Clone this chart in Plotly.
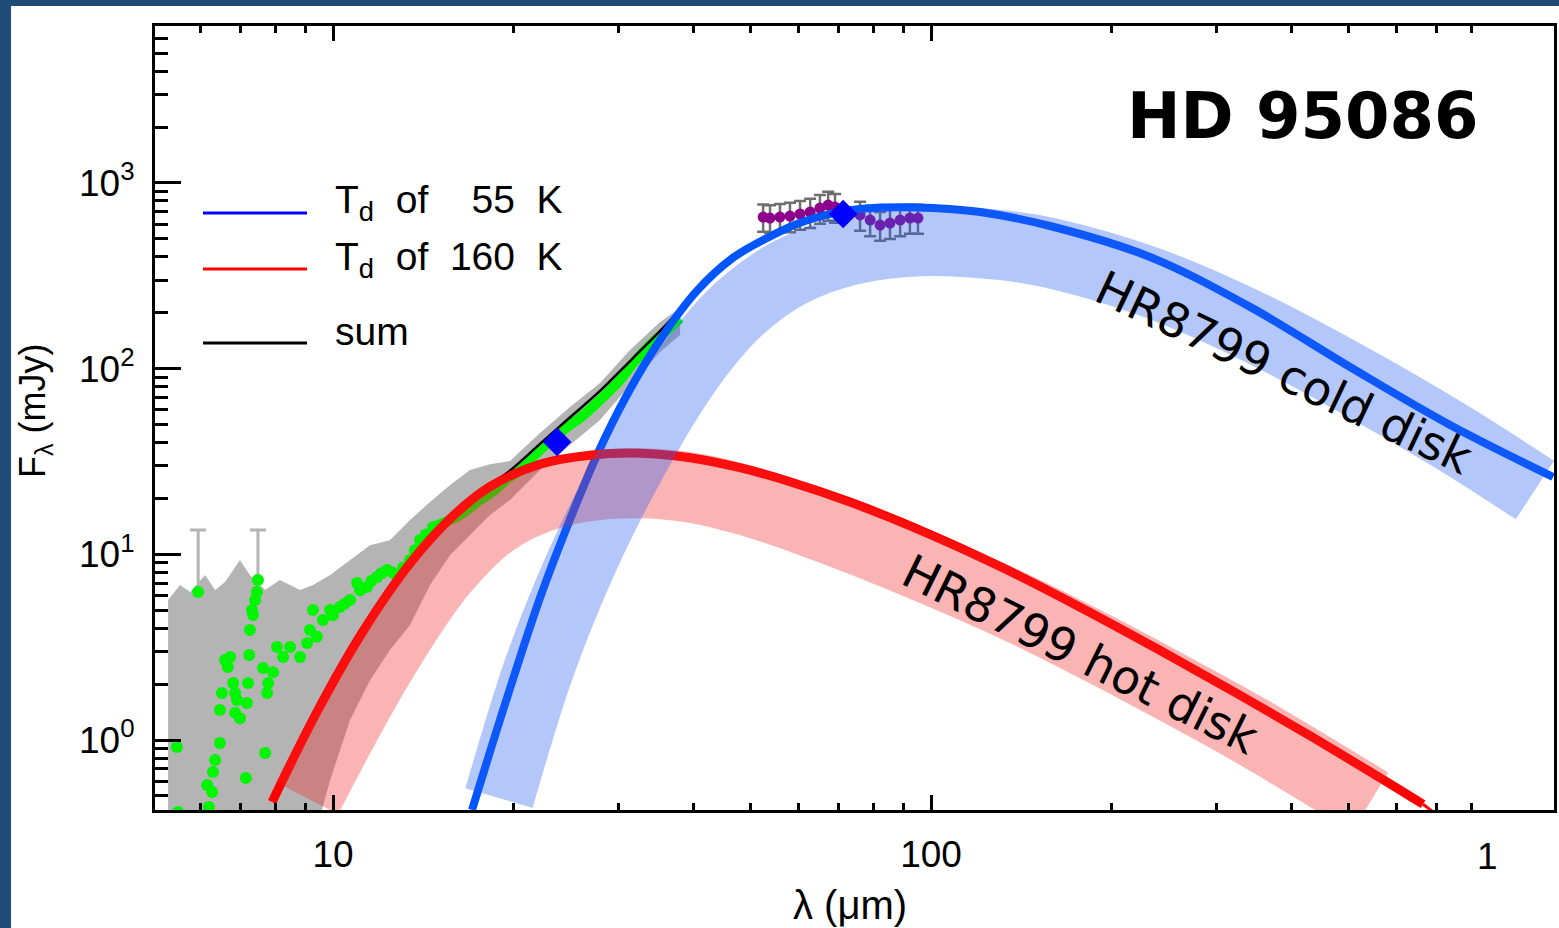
import plotly.graph_objects as go

# ---------------- data ----------------
# IRS spectrum (green dots), micron / mJy
green_x = [5.48, 5.95, 5.51, 6.20, 6.16, 6.28, 6.30, 6.35, 6.47, 6.47, 6.52, 6.60, 6.73, 6.67, 6.81, 6.86, 6.91, 6.86,
           6.99, 7.15, 7.18, 7.21, 7.24, 7.26, 7.32, 7.35, 7.41, 7.46, 7.49, 7.64, 7.70, 7.76, 7.79, 7.94, 8.06, 8.25,
           8.48, 8.81, 9.05, 9.15, 9.26, 9.40, 9.62, 9.89, 10.0, 10.27, 10.45, 10.68, 10.97, 11.1, 11.40, 11.6, 11.85,
           12.05, 12.31, 12.55, 12.79, 13.1, 13.45, 13.7, 13.98, 14.3, 14.70]
green_y = [0.917, 6.27, 0.41, 0.436, 0.573, 0.525, 0.673, 0.78, 0.963, 1.45, 1.79, 2.70, 2.80, 2.47, 2.03, 1.79, 1.64, 1.40,
           1.31, 0.624, 1.58, 2.03, 2.87, 3.91, 5.01, 4.71, 5.67, 6.27, 7.27, 2.44, 0.851, 1.79, 2.03, 2.32, 3.17, 2.80,
           3.17, 2.80, 3.33, 3.91, 5.01, 3.6, 4.43, 5.01, 4.7, 5.20, 5.4, 5.67, 7.00, 6.4, 6.67, 7.2, 7.55,
           7.9, 8.23, 8.0, 7.6, 8.5, 9.32, 10.5, 11.94, 12.8, 14.03]
# IRS spectrum, dense part (drawn as a continuous band of points)
gline_x = [14.70, 16.31, 17.62, 18.66, 19.54, 20.54, 22.19, 24.62, 25.88, 27.96, 30.20, 31.75, 33.89, 36.18, 38.05]
gline_y = [14.0, 16.3, 19.6, 22.2, 25.4, 28.4, 36.5, 48.5, 54.2, 67.8, 86.8, 107, 134, 161, 187]

# IRS uncertainty envelope (grey)
gray_up_x = [5.30, 5.55, 5.77, 6.11, 6.35, 6.60, 6.99, 7.26, 7.70, 8.15, 8.81, 9.26, 9.89, 10.68, 11.53, 12.45, 13.45,
             14.53, 15.7, 16.95, 18.3, 19.77, 22.19, 24.91, 27.96, 31.38, 35.23, 38.05]
gray_up_y = [5.67, 6.83, 6.27, 7.74, 6.42, 7.09, 9.32, 7.74, 6.42, 7.27, 6.42, 6.83, 7.74, 9.32, 11.2, 11.9, 15.3,
             19.1, 23.6, 28.4, 30.5, 31.8, 45.0, 62.1, 83.6, 126, 178, 212]
gray_lo_x = [38.05, 35.23, 31.38, 27.96, 24.91, 22.19, 19.77, 18.3, 16.95, 15.7, 14.53, 13.45, 12.45, 11.53, 10.68,
             9.89, 9.31, 5.30]
gray_lo_y = [151.7, 122.9, 81.6, 52.9, 38.8, 28.4, 19.6, 16.3, 12.7, 9.91, 6.83, 4.16, 3.05, 2.10, 1.28, 0.609, 0.3, 0.3]
# tall individual IRS error bars
spike_x = [5.95, 7.49]
spike_y = [8.0, 8.0]
spike_err = [5.5, 5.5]

# Far-IR photometry (purple) and its errors
purple_x = [52.4, 53.8, 55.9, 58.1, 60.4, 62.8, 65.2, 67.3, 69.1, 76.1, 79.1, 82.2, 85.4, 88.8, 92.2, 95.1]
purple_y = [655, 647, 655, 663, 680, 697, 732, 760, 741, 672, 631, 593, 608, 631, 647, 647]
purple_err = [110, 110, 115, 120, 120, 125, 130, 135, 130, 120, 115, 105, 110, 115, 115, 115]

# MIPS photometry (blue diamonds)
diam_x = [23.7, 71.3]
diam_y = [40.3, 680]

# Model curves
blue_x = [17.08, 19.54, 22.19, 24.62, 27.64, 31.01, 35.23, 40.6, 46.65, 53.19, 60.4, 68.6, 78.2, 88.8, 100.8,
          120.8, 158.1, 232.4, 341.6, 502, 737.9, 1097]
blue_y = [0.42, 1.684, 5.82, 14.03, 34.25, 72.1, 142.6, 262, 395, 505, 610, 686, 730, 740, 732,
          697, 586, 399, 215, 102, 49.7, 26.1]
red_x = [7.91, 9.40, 11.22, 13.45, 15.7, 18.3, 22.19, 26.9, 32.62, 39.54, 47.93, 58.1, 73.2, 98.47, 132.5,
         178.2, 239.7, 322.4, 433.6, 581, 665]
red_y = [0.464, 1.415, 3.84, 8.92, 15.55, 23.12, 30.56, 34.18, 35.03, 33.13, 29.26, 24.6, 19.12, 13.02, 8.40,
         5.16, 3.08, 1.804, 1.038, 0.590, 0.451]
red_tail_x = [665, 691]
red_tail_y = [0.451, 0.41]
sum_x = [7.91, 9.40, 11.22, 13.45, 15.7, 18.3, 19.54, 22.19, 24.62, 27.96, 31.75, 36.18, 40.6, 46.65, 53.19, 60.4,
         68.6, 78.2, 88.8, 100.8, 120.8, 158.1, 232.4, 341.6, 502, 737.9, 1097]
sum_y = [0.473, 1.44, 3.92, 9.1, 15.9, 23.7, 27.4, 39.3, 52.9, 75.8, 114, 174, 262, 395, 511, 616,
         697, 742, 756, 745, 712, 598, 405, 218, 103.5, 50.3, 26.3]

# HR 8799 disk templates (bands)
cold_x = [18.95, 21.85, 24.72, 27.85, 31.62, 36.47, 41.1, 47.9, 58.1, 73.2, 95.9, 130.5, 158.1, 232.4, 341.6, 502,
          737.9, 1023]
cold_y = [0.487, 2.184, 6.158, 14.38, 31.64, 69.8, 122.1, 211.5, 330.0, 434.0, 485.0, 463.0, 420.0, 292.0, 171.0,
          89.0, 43.4, 22.2]
hot_x = [9.05, 10.76, 12.27, 13.92, 15.28, 18.03, 20.95, 26.09, 32.62, 39.99, 49.81, 60.4, 79.98, 140.4, 189.5,
         254.9, 342.9, 542.1]
hot_y = [0.487, 1.394, 2.901, 5.461, 8.173, 14.03, 18.75, 23.0, 24.15, 22.75, 19.2, 15.65, 11.1, 5.095, 3.141,
         1.894, 1.119, 0.462]

# axis ticks
x_tickvals = [10, 100]
x_ticktext = ["10", "100"]
x_minor = [6, 7, 8, 9, 20, 30, 40, 50, 60, 70, 80, 90, 200, 300, 400, 500, 600, 700, 800]
y_tickvals = [1, 10, 100, 1000]
y_ticktext = ["10<sup>0</sup>", "10<sup>1</sup>", "10<sup>2</sup>", "10<sup>3</sup>"]
y_minor = [0.5, 0.6, 0.7, 0.8, 0.9, 2, 3, 4, 5, 6, 7, 8, 9, 20, 30, 40, 50, 60, 70, 80, 90,
           200, 300, 400, 500, 600, 700, 800, 900, 2000, 3000, 4000, 5000, 6000]

# ---------------- layout geometry ----------------
W, H = 1559, 928
L, R, T, B = 155, 5, 26, 118
PW, PH = W - L - R, H - T - B


def px(x):
    return (x - L) / PW


def py(y):
    return (H - B - y) / PH


FONT = "Liberation Sans"
fig = go.Figure()

# grey envelope
fig.add_trace(go.Scatter(x=gray_up_x + gray_lo_x, y=gray_up_y + gray_lo_y, mode="lines", fill="toself",
                         fillcolor="rgb(180,180,180)", line=dict(width=0), hoverinfo="skip"))
fig.add_trace(go.Scatter(x=spike_x, y=spike_y, mode="markers", marker=dict(size=1, color="rgba(0,0,0,0)"),
                         error_y=dict(type="data", array=spike_err, arrayminus=spike_err, color="rgb(180,180,180)",
                                      thickness=3, width=8)))
fig.add_trace(go.Scatter(x=purple_x, y=purple_y, mode="markers", marker=dict(size=1, color="rgba(0,0,0,0)"),
                         error_y=dict(type="data", array=purple_err, arrayminus=purple_err, color="rgb(110,110,110)",
                                      thickness=2.5, width=6)))
# green spectrum
fig.add_trace(go.Scatter(x=green_x, y=green_y, mode="markers",
                         marker=dict(size=12, color="rgb(0,245,0)", line=dict(width=0))))
fig.add_trace(go.Scatter(x=gline_x, y=gline_y, mode="lines", line=dict(color="rgb(0,245,0)", width=10, shape="spline")))
# purple photometry
fig.add_trace(go.Scatter(x=purple_x, y=purple_y, mode="markers",
                         marker=dict(size=11, color="rgb(140,0,140)", line=dict(width=0))))
# models
fig.add_trace(go.Scatter(x=sum_x, y=sum_y, mode="lines", line=dict(color="black", width=2.5, shape="spline")))
fig.add_trace(go.Scatter(x=blue_x, y=blue_y, mode="lines", line=dict(color="rgb(0,85,255)", width=8, shape="spline")))
fig.add_trace(go.Scatter(x=red_x, y=red_y, mode="lines", line=dict(color="rgb(255,0,0)", width=9, shape="spline")))
fig.add_trace(go.Scatter(x=red_tail_x, y=red_tail_y, mode="lines", line=dict(color="rgb(255,0,0)", width=3)))
# HR 8799 bands
fig.add_trace(go.Scatter(x=hot_x, y=hot_y, mode="lines",
                         line=dict(color="rgba(240,40,40,0.35)", width=70, shape="spline")))
fig.add_trace(go.Scatter(x=cold_x, y=cold_y, mode="lines",
                         line=dict(color="rgba(40,95,240,0.35)", width=70, shape="spline")))
# diamonds
fig.add_trace(go.Scatter(x=diam_x, y=diam_y, mode="markers",
                         marker=dict(symbol="diamond", size=22, color="rgb(0,0,255)", line=dict(width=0))))

# frame (dark blue border around white page)
fig.add_shape(type="rect", xref="paper", yref="paper", x0=px(11), x1=px(1570), y0=py(940), y1=py(6),
              fillcolor="white", line=dict(width=0), layer="below")

# legend drawn manually
for yy, col in [(213, "rgb(0,0,255)"), (269, "rgb(255,0,0)"), (343, "black")]:
    fig.add_shape(type="line", xref="paper", yref="paper", x0=px(203), x1=px(307), y0=py(yy), y1=py(yy),
                  line=dict(color=col, width=3))

NB = "\u00a0"
ann = [
    dict(text="T<sub>d</sub>" + NB * 2 + "of" + NB * 4 + "55" + NB * 2 + "K", x=px(333), y=py(203), xanchor="left",
         yanchor="middle", font=dict(family=FONT, size=39, color="black")),
    dict(text="T<sub>d</sub>" + NB * 2 + "of" + NB * 2 + "160" + NB * 2 + "K", x=px(333), y=py(259), xanchor="left",
         yanchor="middle", font=dict(family=FONT, size=39, color="black")),
    dict(text="sum", x=px(333), y=py(331), xanchor="left", yanchor="middle",
         font=dict(family=FONT, size=39, color="black")),
    dict(text="<b>HD 95086</b>", x=px(1303), y=py(116), xanchor="center", yanchor="middle",
         font=dict(family="DejaVu Sans", size=64, color="black")),
    dict(text="HR8799 cold disk", x=px(1284), y=py(373), xanchor="center", yanchor="middle", textangle=25.4,
         font=dict(family="DejaVu Sans", size=47, color="black")),
    dict(text="HR8799 hot disk", x=px(1081), y=py(654), xanchor="center", yanchor="middle", textangle=26.3,
         font=dict(family="DejaVu Sans", size=47, color="black")),
    dict(text="1", x=px(1487), y=py(857), xanchor="center", yanchor="middle",
         font=dict(family=FONT, size=37, color="black")),
    dict(text="\u03bb (\u03bcm)", x=px(850), y=py(905), xanchor="center", yanchor="middle",
         font=dict(family=FONT, size=40, color="black")),
    dict(text="F<sub>\u03bb</sub> (mJy)", x=px(35), y=py(411), xanchor="center", yanchor="middle", textangle=-90,
         font=dict(family=FONT, size=36, color="black")),
]
for a in ann:
    a.update(xref="paper", yref="paper", showarrow=False)
    fig.add_annotation(**a)

fig.update_layout(
    template="none", width=W, height=H, autosize=False, showlegend=False,
    margin=dict(l=L, r=R, t=T, b=B, pad=0),
    paper_bgcolor="#1F4B77", plot_bgcolor="white",
    xaxis=dict(type="log", range=[0.70234, 3.04181], showgrid=False, zeroline=False,
               showline=True, linecolor="black", linewidth=3, mirror="ticks",
               ticks="inside", ticklen=15, tickwidth=3, tickcolor="black",
               tickmode="array", tickvals=x_tickvals, ticktext=x_ticktext,
               tickfont=dict(family=FONT, size=37, color="black"), ticklabelstandoff=10,
               minor=dict(ticks="inside", ticklen=7, tickwidth=2.5, tickcolor="black",
                          tickmode="array", tickvals=x_minor, showgrid=False)),
    yaxis=dict(type="log", range=[-0.37695, 3.84491], showgrid=False, zeroline=False,
               showline=True, linecolor="black", linewidth=3, mirror=True,
               ticks="inside", ticklen=26, tickwidth=3, tickcolor="black",
               tickmode="array", tickvals=y_tickvals, ticktext=y_ticktext,
               tickfont=dict(family=FONT, size=37, color="black"), ticklabelstandoff=10,
               minor=dict(ticks="inside", ticklen=13, tickwidth=2.5, tickcolor="black",
                          tickmode="array", tickvals=y_minor, showgrid=False)),
)

fig.write_html("out.html")
